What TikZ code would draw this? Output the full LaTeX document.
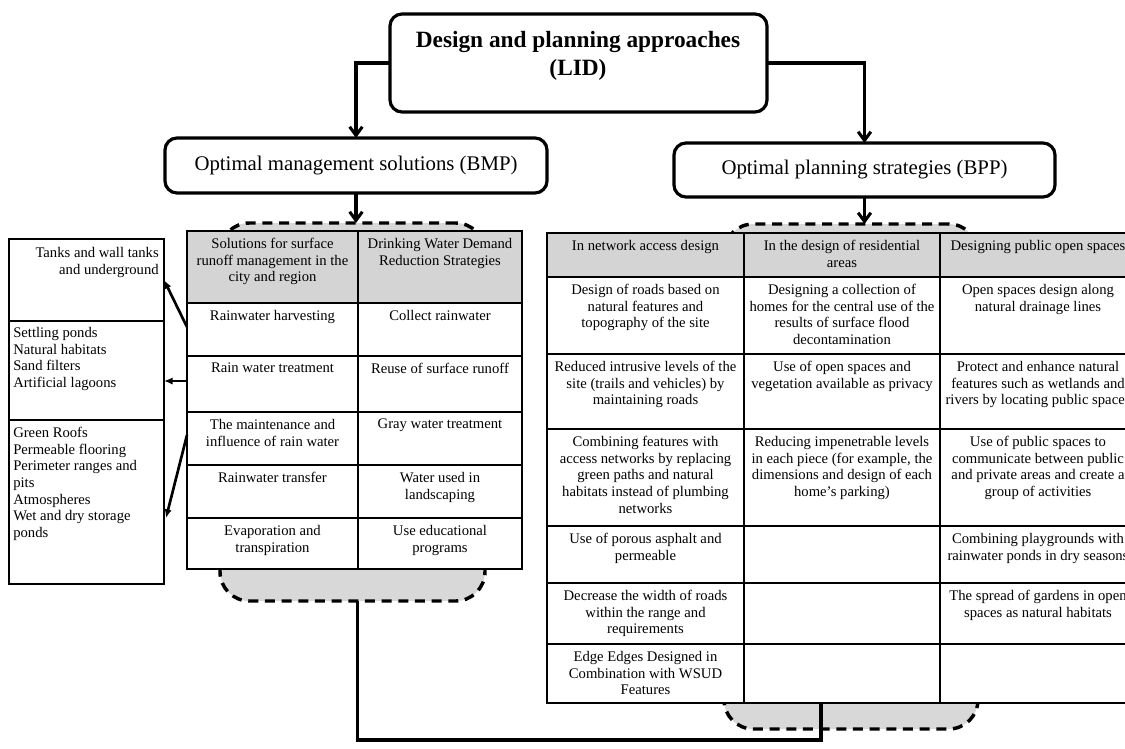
\documentclass[tikz,border=0pt]{standalone}
\usepackage{fontspec}
\setmainfont{Liberation Serif}
\usetikzlibrary{arrows.meta}
\definecolor{hdrgray}{RGB}{212,212,212}
\definecolor{dashgray}{RGB}{216,216,216}
\begin{document}
\begin{tikzpicture}[x=0.75pt,y=-0.75pt,
 bigbox/.style={draw, line width=2.4pt, rounded corners=9pt, fill=white, inner sep=0pt, outer sep=0pt},
 plainbox/.style={draw, line width=1.3pt, fill=white, inner sep=0pt, outer sep=0pt},
 tabframe/.style={fill=white, inner sep=0pt, outer sep=0pt},
 dashblob/.style={draw, fill=dashgray, line width=2.6pt, dash pattern=on 7.5pt off 5pt, rounded corners=22pt, inner sep=0pt, outer sep=0pt},
 grid line/.style={line width=1.35pt},
 cell/.style={anchor=north, align=center, inner sep=0pt, font=\fontsize{11}{12.5}\selectfont},
 side/.style={inner sep=0pt, font=\fontsize{11}{12.5}\selectfont},
 main arrow/.style={line width=2.3pt, -{Straight Barb[length=6.5pt,width=9.5pt,line width=2.3pt]}},
 side arrow/.style={line width=2pt, -{Latex[length=6.5pt,width=5.5pt]}},
 conn/.style={line width=2.3pt},
]
\useasboundingbox (0,0) rectangle (1125,749);
\clip (0,0) rectangle (1125,749);

% dashed background shapes
\node[dashblob, minimum width=198.75pt, minimum height=283.5pt] (ldash) at (352.5,412) {};
\node[dashblob, minimum width=190.5pt, minimum height=378.75pt] (rdash) at (851,476.5) {};

% ---------------- left table ----------------
\node[tabframe, minimum width=251.25pt, minimum height=253.5pt] (ltab) at (354.5,400) {};
\fill[hdrgray] (187,231) rectangle (522,303);
\draw[grid line] (358,231) -- (358,569);
\foreach \yy in {303,356,412,465,518} \draw[grid line] (187,\yy) -- (522,\yy);
\draw[grid line] (ltab.north west) rectangle (ltab.south east);

\node[cell] (l01) at (272.5,238) {Solutions for surface\\runoff management in the\\city and region};
\node[cell] (l02) at (440,238) {Drinking Water Demand\\Reduction Strategies};
\node[cell] (l11) at (272.5,310) {Rainwater harvesting};
\node[cell] (l12) at (440,310) {Collect rainwater};
\node[cell] (l21) at (272.5,363) {Rain water treatment};
\node[cell] (l22) at (440,363) {Reuse of surface runoff};
\node[cell] (l31) at (272.5,419) {The maintenance and\\influence of rain water};
\node[cell] (l32) at (440,419) {Gray water treatment};
\node[cell] (l41) at (272.5,472) {Rainwater transfer};
\node[cell] (l42) at (440,472) {Water used in\\landscaping};
\node[cell] (l51) at (272.5,525) {Evaporation and\\transpiration};
\node[cell] (l52) at (440,525) {Use educational\\programs};

% ---------------- right table ----------------
\node[tabframe, minimum width=441.75pt, minimum height=352.5pt] (rtab) at (841.5,468) {};
\fill[hdrgray] (547,233) rectangle (1136,277);
\draw[grid line] (744,233) -- (744,703);
\draw[grid line] (940,233) -- (940,703);
\foreach \yy in {277,354,429,526,583,644} \draw[grid line] (547,\yy) -- (1136,\yy);
\draw[grid line] (rtab.north west) rectangle (rtab.south east);

\node[cell] (r01) at (645.5,240) {In network access design};
\node[cell] (r02) at (842,240) {In the design of residential\\areas};
\node[cell] (r03) at (1038,240) {Designing public open spaces};
\node[cell] (r11) at (645.5,284) {Design of roads based on\\natural features and\\topography of the site};
\node[cell] (r12) at (842,284) {Designing a collection of\\homes for the central use of the\\results of surface flood\\decontamination};
\node[cell] (r13) at (1038,284) {Open spaces design along\\natural drainage lines};
\node[cell] (r21) at (645.5,361) {Reduced intrusive levels of the\\site (trails and vehicles) by\\maintaining roads};
\node[cell] (r22) at (842,361) {Use of open spaces and\\vegetation available as privacy};
\node[cell] (r23) at (1038,361) {Protect and enhance natural\\features such as wetlands and\\rivers by locating public spaces};
\node[cell] (r31) at (645.5,436) {Combining features with\\access networks by replacing\\green paths and natural\\habitats instead of plumbing\\networks};
\node[cell] (r32) at (842,436) {Reducing impenetrable levels\\in each piece (for example, the\\dimensions and design of each\\home's parking)};
\node[cell] (r33) at (1038,436) {Use of public spaces to\\communicate between public\\and private areas and create a\\group of activities};
\node[cell] (r41) at (645.5,533) {Use of porous asphalt and\\permeable};
\node[cell] (r43) at (1038,533) {Combining playgrounds with\\rainwater ponds in dry seasons};
\node[cell] (r51) at (645.5,590) {Decrease the width of roads\\within the range and\\requirements};
\node[cell] (r53) at (1038,590) {The spread of gardens in open\\spaces as natural habitats};
\node[cell] (r61) at (645.5,651) {Edge Edges Designed in\\Combination with WSUD\\Features};

% ---------------- left boxes ----------------
\node[plainbox, minimum width=116.25pt, minimum height=61.5pt] (lb1) at (86.5,280) {};
\node[plainbox, minimum width=116.25pt, minimum height=74.25pt] (lb2) at (86.5,370.5) {};
\node[plainbox, minimum width=116.25pt, minimum height=123pt] (lb3) at (86.5,502) {};
\node[side, anchor=north east, align=right] (lt1) at (159,247) {Tanks and wall tanks\\and underground};
\node[side, anchor=north west, align=left] (lt2) at (13,327) {Settling ponds\\Natural habitats\\Sand filters\\Artificial lagoons};
\node[side, anchor=north west, align=left] (lt3) at (13,427) {Green Roofs\\Permeable flooring\\Perimeter ranges and\\pits\\Atmospheres\\Wet and dry storage\\ponds};

% ---------------- main boxes ----------------
\node[bigbox, minimum width=282.75pt, minimum height=73.5pt] (top) at (578.5,63) {};
\node[anchor=north, align=center, inner sep=0pt, font=\bfseries\fontsize{17.5}{21}\selectfont] (title) at (578,31) {Design and planning approaches\\(LID)};
\node[bigbox, minimum width=286.5pt, minimum height=41.25pt, font=\fontsize{15.6}{18}\selectfont] (bmp) at (356,165.5) {Optimal management solutions (BMP)};
\node[bigbox, minimum width=285.75pt, minimum height=40.5pt, font=\fontsize{15.6}{18}\selectfont] (bpp) at (864.5,170) {Optimal planning strategies (BPP)};

% ---------------- connectors ----------------
\draw[main arrow] (top.west) -| (bmp.north);
\draw[main arrow] (top.east) -| (bpp.north);
\draw[main arrow] (bmp.south) -- (bmp.south |- ldash.north);
\draw[main arrow] (bpp.south) -- (bpp.south |- rdash.north);

\coordinate (a1) at (187,327);
\coordinate (a2) at (187,381);
\coordinate (a3) at (187,435);
\coordinate (e3) at (166,518);
\draw[side arrow] (a1) -- (lb1.east);
\draw[side arrow] (a2) -- (lb2.east |- a2);
\draw[side arrow] (a3) -- (e3);

\coordinate (turn) at (821,740);
\draw[conn] ([xshift=4pt]ldash.south) |- (turn) -- (turn |- rtab.south);
\end{tikzpicture}
\end{document}
